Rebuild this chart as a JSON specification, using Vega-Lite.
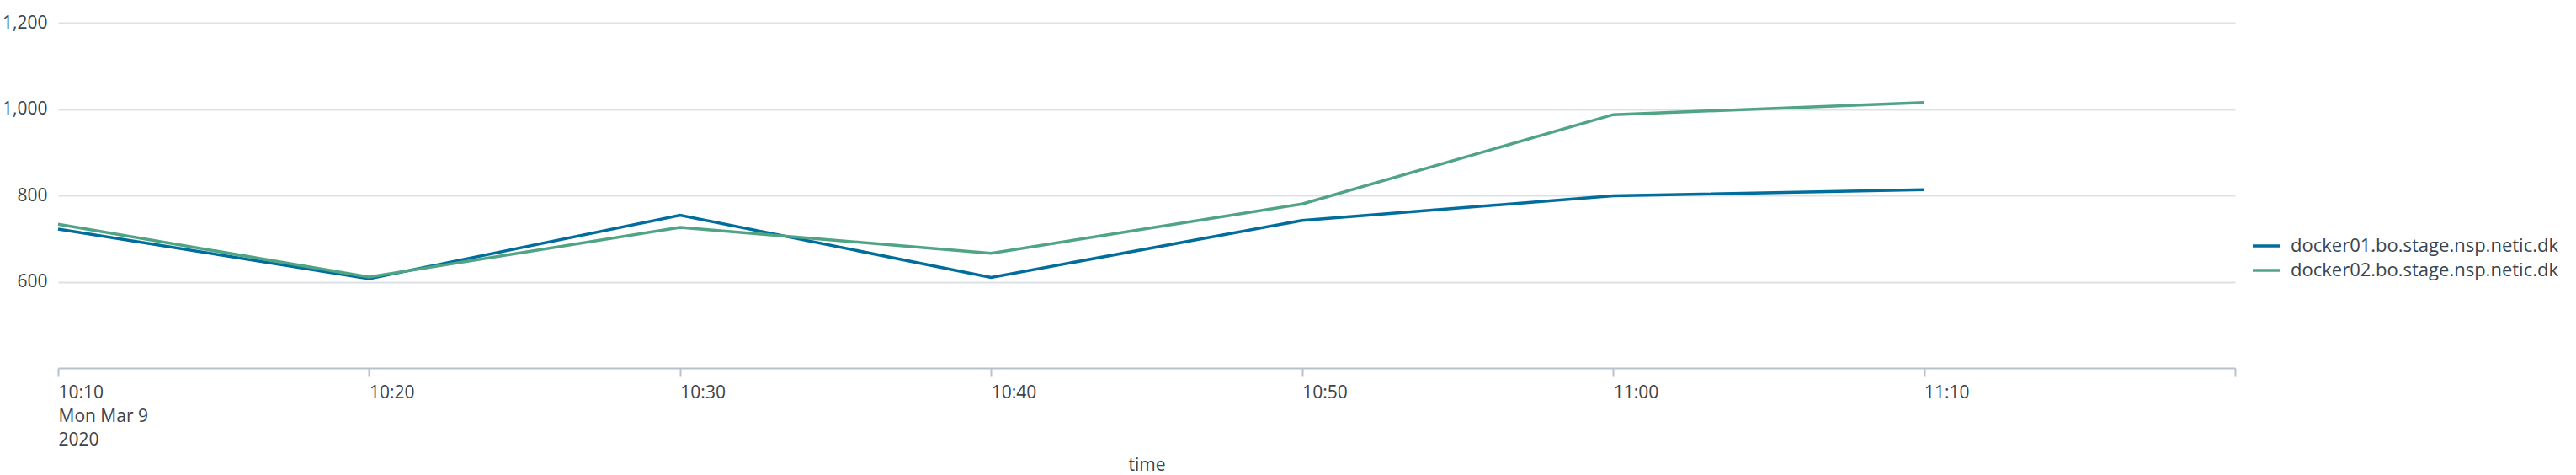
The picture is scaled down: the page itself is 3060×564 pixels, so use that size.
{
  "$schema": "https://vega.github.io/schema/vega-lite/v6.json",
  "width": 2586,
  "height": 410,
  "autosize": {"type": "none"},
  "padding": {"left": 69, "top": 27, "right": 405, "bottom": 127},
  "background": "white",
  "config": {
    "view": {"stroke": null},
    "font": "Open Sans"
  },
  "data": {
    "values": [
      {"time": "2020-03-09T10:10:00", "host": "docker01.bo.stage.nsp.netic.dk", "value": 722},
      {"time": "2020-03-09T10:20:00", "host": "docker01.bo.stage.nsp.netic.dk", "value": 607},
      {"time": "2020-03-09T10:30:00", "host": "docker01.bo.stage.nsp.netic.dk", "value": 754},
      {"time": "2020-03-09T10:40:00", "host": "docker01.bo.stage.nsp.netic.dk", "value": 610},
      {"time": "2020-03-09T10:50:00", "host": "docker01.bo.stage.nsp.netic.dk", "value": 742},
      {"time": "2020-03-09T11:00:00", "host": "docker01.bo.stage.nsp.netic.dk", "value": 799},
      {"time": "2020-03-09T11:10:00", "host": "docker01.bo.stage.nsp.netic.dk", "value": 813},
      {"time": "2020-03-09T10:10:00", "host": "docker02.bo.stage.nsp.netic.dk", "value": 733},
      {"time": "2020-03-09T10:20:00", "host": "docker02.bo.stage.nsp.netic.dk", "value": 611},
      {"time": "2020-03-09T10:30:00", "host": "docker02.bo.stage.nsp.netic.dk", "value": 726},
      {"time": "2020-03-09T10:40:00", "host": "docker02.bo.stage.nsp.netic.dk", "value": 666},
      {"time": "2020-03-09T10:50:00", "host": "docker02.bo.stage.nsp.netic.dk", "value": 780},
      {"time": "2020-03-09T11:00:00", "host": "docker02.bo.stage.nsp.netic.dk", "value": 987},
      {"time": "2020-03-09T11:10:00", "host": "docker02.bo.stage.nsp.netic.dk", "value": 1015}
    ]
  },
  "mark": {"type": "line", "strokeWidth": 3.5, "strokeJoin": "miter"},
  "encoding": {
    "x": {
      "field": "time",
      "type": "temporal",
      "title": "time",
      "scale": {
        "domain": [
          {"year": 2020, "month": 3, "date": 9, "hours": 10, "minutes": 10},
          {"year": 2020, "month": 3, "date": 9, "hours": 11, "minutes": 20}
        ]
      },
      "axis": {
        "values": [
          {"year": 2020, "month": 3, "date": 9, "hours": 10, "minutes": 10},
          {"year": 2020, "month": 3, "date": 9, "hours": 10, "minutes": 20},
          {"year": 2020, "month": 3, "date": 9, "hours": 10, "minutes": 30},
          {"year": 2020, "month": 3, "date": 9, "hours": 10, "minutes": 40},
          {"year": 2020, "month": 3, "date": 9, "hours": 10, "minutes": 50},
          {"year": 2020, "month": 3, "date": 9, "hours": 11, "minutes": 0},
          {"year": 2020, "month": 3, "date": 9, "hours": 11, "minutes": 10},
          {"year": 2020, "month": 3, "date": 9, "hours": 11, "minutes": 20}
        ],
        "labelExpr": "datum.index == 0 ? [timeFormat(datum.value, '%H:%M'), timeFormat(datum.value, '%a %b %-d'), timeFormat(datum.value, '%Y')] : (datum.index == 1 ? '' : timeFormat(datum.value, '%H:%M'))",
        "grid": false,
        "domainColor": "#b9c2cc",
        "domainWidth": 2,
        "tickColor": "#b9c2cc",
        "tickWidth": 2,
        "tickSize": 10,
        "labelAlign": "left",
        "labelBaseline": "alphabetic",
        "labelPadding": 25,
        "labelLineHeight": 28,
        "labelFontSize": 21,
        "labelColor": "#3c444d",
        "labelFlush": false,
        "labelOverlap": false,
        "titleFontSize": 21,
        "titleFontWeight": "normal",
        "titleColor": "#3c444d",
        "titleBaseline": "alphabetic",
        "titleY": 121
      }
    },
    "y": {
      "field": "value",
      "type": "quantitative",
      "title": null,
      "scale": {"domain": [400, 1200], "nice": false, "zero": false},
      "axis": {
        "values": [600, 800, 1000, 1200],
        "format": ",.0f",
        "domain": false,
        "ticks": false,
        "grid": true,
        "gridColor": "#dde1e6",
        "gridWidth": 2,
        "labelPadding": 13,
        "labelFontSize": 21,
        "labelColor": "#3c444d"
      }
    },
    "color": {
      "field": "host",
      "type": "nominal",
      "title": null,
      "scale": {"range": ["#006d9c", "#4fa484"]},
      "legend": {
        "orient": "none",
        "legendX": 2605,
        "legendY": 247,
        "symbolType": "stroke",
        "symbolSize": 1024,
        "symbolStrokeWidth": 3.5,
        "labelFontSize": 22,
        "labelColor": "#3c444d",
        "labelOffset": 11,
        "rowPadding": -6,
        "padding": 0,
        "labelLimit": 450
      }
    }
  }
}
